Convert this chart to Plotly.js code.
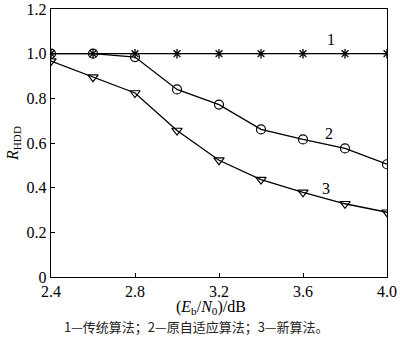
<!DOCTYPE html>
<html>
<head>
<meta charset="utf-8">
<script src="https://cdn.plot.ly/plotly-3.0.1.min.js"></script>
<style>html,body{margin:0;padding:0;background:#fff;}#chart{width:400px;height:343px;}</style>
</head>
<body>
<div id="chart"></div>
<script>
const ebn0 = [2.4, 2.6, 2.8, 3.0, 3.2, 3.4, 3.6, 3.8, 4.0];
const traditional = [1.0, 1.0, 1.0, 1.0, 1.0, 1.0, 1.0, 1.0, 1.0];
const originalAdaptive = [1.0, 1.0, 0.985, 0.84, 0.772, 0.661, 0.616, 0.576, 0.505];
const newAlgorithm = [0.967, 0.895, 0.824, 0.656, 0.523, 0.436, 0.379, 0.328, 0.29];
const xTicks = [2.4, 2.8, 3.2, 3.6, 4.0];
const xTickText = ['2.4', '2.8', '3.2', '3.6', '4.0'];
const yTicks = [0, 0.2, 0.4, 0.6, 0.8, 1.0, 1.2];
const yTickText = ['0', '0.2', '0.4', '0.6', '0.8', '1.0', '1.2'];
const seriesLabels = ['1', '2', '3'];
const caption = '1—传统算法；2—原自适应算法；3—新算法。';

const serif = '"Liberation Serif", "Times New Roman", serif';
const lineStyle = {color: '#000', width: 1.3};

const traces = [
  {x: ebn0, y: originalAdaptive, mode: 'lines+markers', line: lineStyle,
   marker: {symbol: 'circle-open', size: 9, color: '#000', line: {width: 1.2, color: '#000'}}},
  {x: ebn0, y: newAlgorithm, mode: 'lines+markers', line: lineStyle,
   marker: {symbol: 'triangle-down-open', size: 9, color: '#000', line: {width: 1.2, color: '#000'}}},
  {x: ebn0, y: traditional, mode: 'lines+markers', line: lineStyle,
   marker: {symbol: 'asterisk-open', size: 8, color: '#000', line: {width: 1.3, color: '#000'}}}
];

const layout = {
  width: 400, height: 343,
  margin: {l: 51, r: 13, t: 9, b: 66},
  paper_bgcolor: '#fff', plot_bgcolor: '#fff',
  showlegend: false,
  font: {family: serif, size: 16, color: '#000'},
  xaxis: {
    range: [2.4, 4.0], tickvals: xTicks, ticktext: xTickText,
    ticks: 'inside', ticklen: 4, tickwidth: 1, tickcolor: '#000',
    showline: true, linecolor: '#000', linewidth: 1.2, mirror: true,
    showgrid: false, zeroline: false,
    tickfont: {family: serif, size: 16}
  },
  yaxis: {
    range: [0, 1.2002], tickvals: yTicks, ticktext: yTickText,
    ticks: 'inside', ticklen: 4, tickwidth: 1, tickcolor: '#000',
    showline: true, linecolor: '#000', linewidth: 1.2, mirror: true,
    showgrid: false, zeroline: false,
    tickfont: {family: serif, size: 16},
    title: {text: '<i>R</i><sub>HDD</sub>', font: {family: serif, size: 16}, standoff: 4}
  },
  annotations: [
    {x: 3.733, y: 1.062, xref: 'x', yref: 'y', text: seriesLabels[0], showarrow: false, font: {family: serif, size: 16}},
    {x: 3.724, y: 0.644, xref: 'x', yref: 'y', text: seriesLabels[1], showarrow: false, font: {family: serif, size: 16}},
    {x: 3.71, y: 0.396, xref: 'x', yref: 'y', text: seriesLabels[2], showarrow: false, font: {family: serif, size: 16}},
    {x: 0.476, y: -0.115, xref: 'paper', yref: 'paper', xanchor: 'center', yanchor: 'middle',
     text: '(<i>E</i><sub>b</sub>/<i>N</i><sub>0</sub>)/dB', showarrow: false, font: {family: serif, size: 16}},
    {x: 0.433, y: -0.185, xref: 'paper', yref: 'paper', xanchor: 'center', yanchor: 'middle',
     text: caption, showarrow: false, font: {family: '"Noto Sans CJK SC", sans-serif', size: 13, color: '#222'}}
  ]
};

Plotly.newPlot('chart', traces, layout, {displayModeBar: false, staticPlot: true});
</script>
</body>
</html>
